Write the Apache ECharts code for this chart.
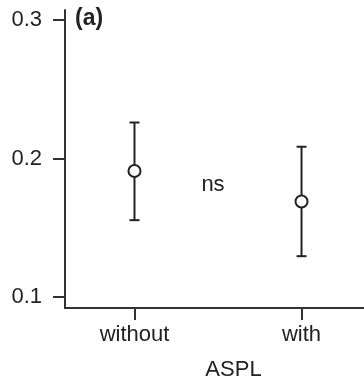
<!DOCTYPE html>
<html>
<head>
<meta charset="utf-8">
<script src="https://cdn.jsdelivr.net/npm/echarts@6/dist/echarts.min.js"></script>
<style>
  html, body { margin: 0; padding: 0; background: #fff; }
  #chart { width: 364px; height: 381px; }
</style>
</head>
<body>
<div id="chart"></div>
<script>
// ASPL groups
var categories = ['without', 'with'];
var xPositions = [1, 2];
var means = [0.191, 0.169];
var lower = [0.1555, 0.1295];
var upper = [0.226, 0.2085];
var yTicks = [0.1, 0.2, 0.3];

var fontFamily = '"Liberation Sans", Arial, Helvetica, sans-serif';
var ink = '#222';

var meanData = xPositions.map(function (x, i) { return [x, means[i]]; });
var barData = xPositions.map(function (x, i) { return [x, lower[i], upper[i]]; });

// vertical bar + caps for every group
function renderErrorBar(params, api) {
    var x = api.value(0);
    var lo = api.coord([x, api.value(1)]);
    var hi = api.coord([x, api.value(2)]);
    var half = 5;
    var style = { stroke: ink, lineWidth: 2 };
    return {
        type: 'group',
        children: [
            { type: 'line', shape: { x1: lo[0], y1: lo[1], x2: hi[0], y2: hi[1] }, style: style },
            { type: 'line', shape: { x1: hi[0] - half, y1: hi[1], x2: hi[0] + half, y2: hi[1] }, style: style },
            { type: 'line', shape: { x1: lo[0] - half, y1: lo[1], x2: lo[0] + half, y2: lo[1] }, style: style }
        ]
    };
}

var chart = echarts.init(document.getElementById('chart'));
chart.setOption({
    animation: false,
    grid: { left: 65, right: 0, top: 10, bottom: 73, outerBoundsMode: 'none' },
    xAxis: {
        type: 'value',
        min: 0.584,
        max: 2.374,
        splitLine: { show: false },
        axisLine: { lineStyle: { color: '#333', width: 2 } },
        axisTick: { customValues: xPositions, length: 12, lineStyle: { color: '#333', width: 2 } },
        axisLabel: {
            customValues: xPositions,
            margin: 16,
            color: ink,
            fontSize: 22,
            fontFamily: fontFamily,
            formatter: function (v) { return categories[xPositions.indexOf(v)] || ''; }
        },
        name: 'ASPL',
        nameLocation: 'middle',
        nameGap: 51,
        nameTextStyle: { color: ink, fontSize: 22, fontFamily: fontFamily, padding: [0, 0, 0, 38] }
    },
    yAxis: {
        type: 'value',
        min: 0.0921,
        max: 0.3072,
        splitLine: { show: false },
        axisLine: { show: true, lineStyle: { color: '#333', width: 2 } },
        axisTick: { show: true, customValues: yTicks, length: 12, lineStyle: { color: '#333', width: 2 } },
        axisLabel: {
            customValues: yTicks,
            margin: 23,
            color: ink,
            fontSize: 22,
            fontFamily: fontFamily,
            formatter: function (v) { return v.toFixed(1); }
        }
    },
    graphic: [
        { type: 'text', left: 75, top: 7, style: { text: '(a)', fontSize: 23, fontWeight: 'bold', fontFamily: fontFamily, fill: ink } },
        { type: 'text', x: 213, y: 185, style: { text: 'ns', fontSize: 22, fontFamily: fontFamily, fill: ink, align: 'center', verticalAlign: 'middle' } }
    ],
    series: [
        {
            type: 'custom',
            renderItem: renderErrorBar,
            data: barData,
            z: 2
        },
        {
            type: 'scatter',
            data: meanData,
            symbol: 'circle',
            symbolSize: 12,
            itemStyle: { color: '#fff', borderColor: ink, borderWidth: 2, opacity: 1 },
            z: 3
        }
    ]
});
</script>
</body>
</html>
